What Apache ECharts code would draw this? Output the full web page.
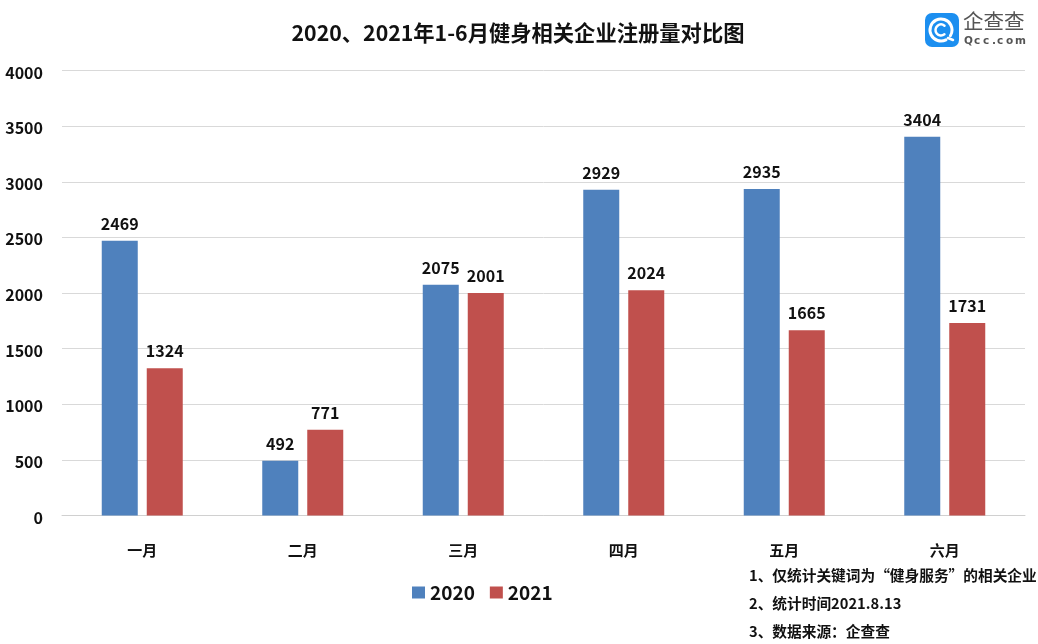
<!DOCTYPE html>
<html><head><meta charset="utf-8"><style>html,body{margin:0;padding:0;background:#fff}#c{width:1038px;height:644px}</style>
<script src="https://cdn.jsdelivr.net/npm/echarts@6/dist/echarts.min.js"></script></head><body><div id="c"></div>
<script>
const categories=['一月','二月','三月','四月','五月','六月'];
const values2020=[2469,492,2075,2929,2935,3404];
const values2021=[1324,771,2001,2024,1665,1731];
const notes=['1、仅统计关键词为“健身服务”的相关企业','2、统计时间2021.8.13','3、数据来源：企查查'];
const F='"Noto Sans CJK SC"';
const chart=echarts.init(document.getElementById('c'),null,{renderer:'canvas'});
const lab={show:true,position:'top',distance:9,color:'#111',fontFamily:F,fontWeight:'bold',fontSize:16};
const arc=(r,s,e,w)=>({type:'arc',shape:{cx:941,cy:30,r:r,startAngle:s,endAngle:e,clockwise:true},style:{fill:'none',stroke:'#fff',lineWidth:w,lineCap:'round'}});
chart.setOption({
 animation:false,
 title:{text:'2020、2021年1-6月健身相关企业注册量对比图',left:513,top:17,textAlign:'center',textStyle:{fontFamily:F,fontSize:21.3,fontWeight:'bold',color:'#111'}},
 legend:{data:['2020','2021'],left:407,top:578,itemWidth:13,itemHeight:12,itemGap:15,icon:'rect',textStyle:{fontFamily:F,fontSize:19,fontWeight:'bold',color:'#111'}},
 grid:{left:62,right:13,top:70.5,bottom:128.5},
 xAxis:{type:'category',data:categories,axisTick:{show:false},axisLine:{lineStyle:{color:'#d0d0d0'}},axisLabel:{margin:27,fontFamily:F,fontSize:15,fontWeight:'bold',color:'#111'}},
 yAxis:{type:'value',min:0,max:4000,interval:500,axisLine:{show:false},axisTick:{show:false},splitLine:{lineStyle:{color:'#d9d9d9'}},axisLabel:{margin:19,verticalAlign:'top',lineHeight:4,formatter:v=>String(v),fontFamily:F,fontSize:16,fontWeight:'bold',color:'#111'}},
 series:[
  {name:'2020',type:'bar',data:values2020,barWidth:36,barGap:'25%',itemStyle:{color:'#4f81bd'},label:lab},
  {name:'2021',type:'bar',data:values2021,barWidth:36,itemStyle:{color:'#c0504d'},label:lab}
 ],
 graphic:[
  ...notes.map((t,i)=>({type:'text',left:749,top:568+i*28,style:{text:t,fontFamily:F,fontSize:14.7,fontWeight:'bold',fill:'#111'}})),
  {type:'text',left:963,top:11,style:{text:'企查查',fontFamily:F,fontSize:20.5,fill:'#555'}},
  ...'Qcc.com'.split('').map((ch,i)=>({type:'text',left:[964,974,983,992,997,1006,1015][i],top:36,style:{text:ch,fontFamily:'"DejaVu Sans"',fontSize:10.5,fontWeight:'bold',fill:'#555'}})),
  {type:'rect',shape:{x:925,y:13,width:34,height:34,r:7},style:{fill:'#1c8ff0'}},
  arc(11,1.1,0.55,3),
  arc(5.5,0.9,5.4,2.5),
  {type:'line',shape:{x1:948,y1:38,x2:953,y2:40},style:{stroke:'#fff',lineWidth:2.5,lineCap:'round'}}
 ]
});
</script></body></html>
